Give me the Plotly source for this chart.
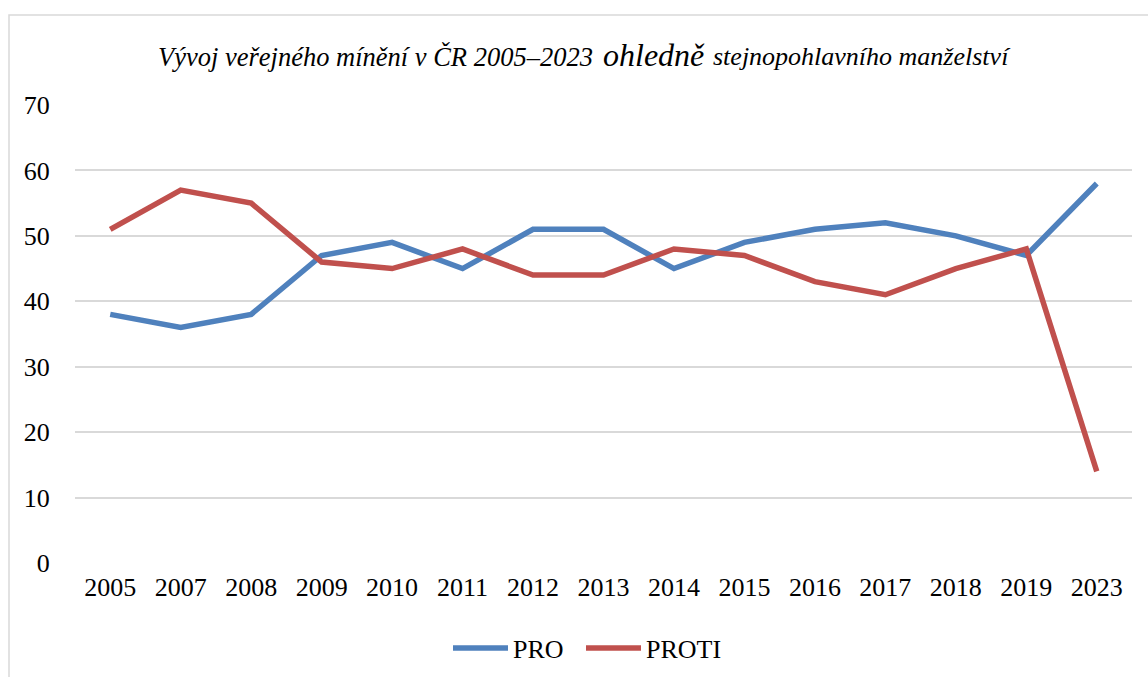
import plotly.graph_objects as go

years = ["2005", "2007", "2008", "2009", "2010", "2011", "2012", "2013",
         "2014", "2015", "2016", "2017", "2018", "2019", "2023"]
pro = [38, 36, 38, 47, 49, 45, 51, 51, 45, 49, 51, 52, 50, 47, 58]
proti = [51, 57, 55, 46, 45, 48, 44, 44, 48, 47, 43, 41, 45, 48, 14]
y_ticks = [0, 10, 20, 30, 40, 50, 60, 70]
title_parts = ["Vývoj veřejného mínění v ČR 2005–2023", "ohledně",
               "stejnopohlavního manželství"]

FONT = "Liberation Serif"

W, H = 1148, 677
L, R, T, B = 75, 16, 105, 114
pw, ph = W - L - R, H - T - B


def px_x(p):
    return (p - L) / pw


def px_y(p):
    return (T + ph - p) / ph


fig = go.Figure()
fig.add_trace(go.Scatter(x=years, y=pro, mode="lines", name="PRO",
                         line=dict(color="#4F81BD", width=5.5),
                         legend="legend"))
fig.add_trace(go.Scatter(x=years, y=proti, mode="lines", name="PROTI",
                         line=dict(color="#C0504D", width=5.5),
                         legend="legend2"))

# outer chart border (left and top visible)
fig.add_shape(type="rect", xref="paper", yref="paper",
              x0=px_x(9), x1=1.5, y0=-1, y1=px_y(15),
              line=dict(color="#D9D9D9", width=1.5), layer="below")

# title in three pieces (different sizes)
for txt, xp, yp, sz in zip(title_parts, [157, 602, 712], [57, 55, 57],
                           [26.5, 32, 26]):
    fig.add_annotation(text=txt, xref="paper", yref="paper",
                       x=px_x(xp), y=px_y(yp), xanchor="left",
                       yanchor="middle", showarrow=False, borderpad=0,
                       font=dict(family=FONT, size=sz, color="black",
                                 style="italic"))

leg_common = dict(orientation="h", xanchor="left", y=px_y(648),
                  yanchor="middle", font=dict(family=FONT, size=26),
                  itemwidth=55, bgcolor="rgba(0,0,0,0)")

fig.update_layout(
    width=W, height=H,
    margin=dict(l=L, r=R, t=T, b=B, autoexpand=False),
    paper_bgcolor="white", plot_bgcolor="white",
    font=dict(family=FONT, color="black", size=26),
    showlegend=True,
    legend=dict(x=px_x(448), **leg_common),
    legend2=dict(x=px_x(581), **leg_common),
    xaxis=dict(type="category", range=[-0.5, len(years) - 0.5],
               showgrid=False, zeroline=False, showline=False,
               automargin=False,
               ticks="outside", ticklen=1, tickcolor="rgba(0,0,0,0)",
               tickfont=dict(family=FONT, size=26)),
    yaxis=dict(range=[0, 70], tickvals=y_ticks, showgrid=True,
               gridcolor="#D9D9D9", gridwidth=1.5, zeroline=False,
               automargin=False,
               showline=False, ticks="outside", ticklen=19,
               tickcolor="rgba(0,0,0,0)",
               tickfont=dict(family=FONT, size=26)),
)

fig.write_html("out.html", config={"displayModeBar": False},
               post_script="document.body.style.margin='0px';")
